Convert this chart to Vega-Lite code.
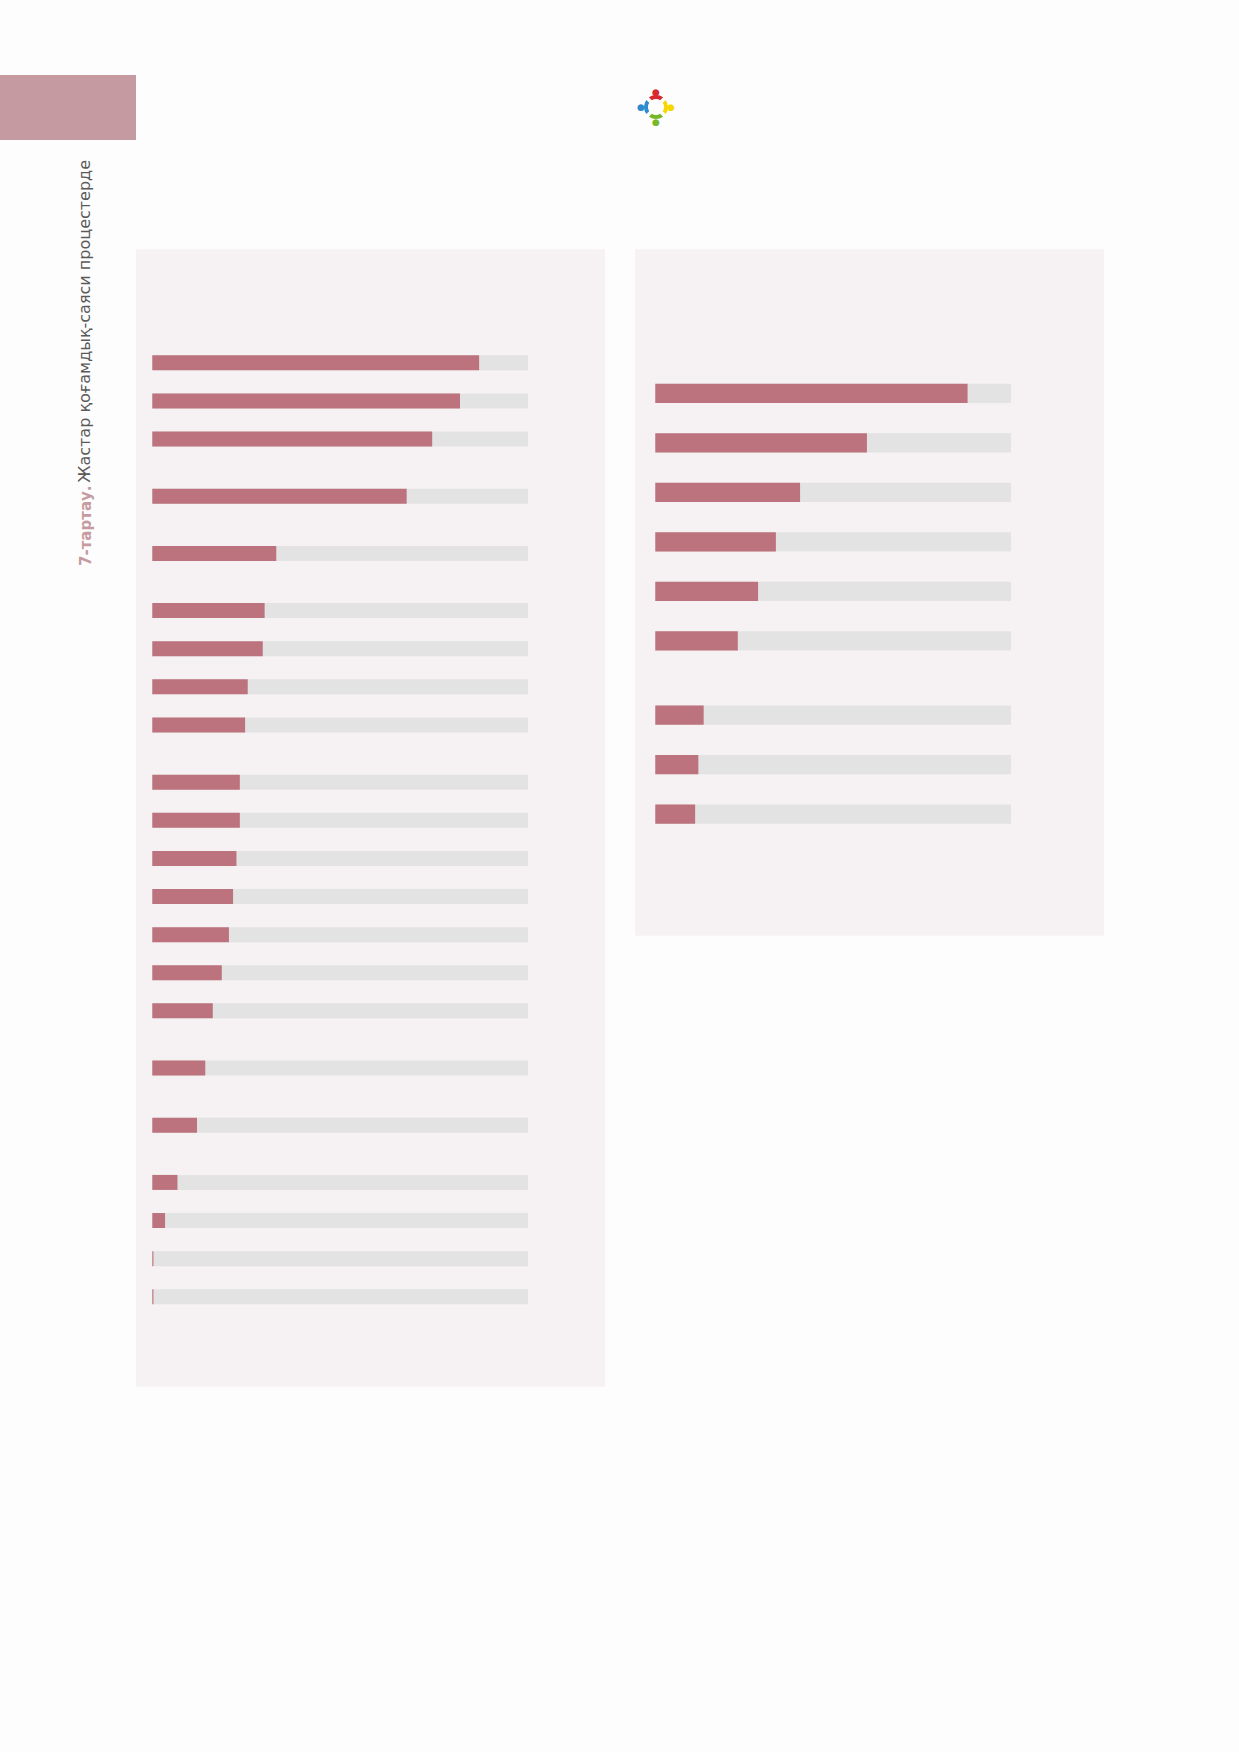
{
  "$schema": "https://vega.github.io/schema/vega-lite/v6.json",
  "background": "#fefdfd",
  "padding": {"top": 75, "left": 0, "right": 135, "bottom": 365},
  "bounds": "flush",
  "spacing": 0,
  "config": {
    "view": {"stroke": null},
    "font": "DejaVu Sans"
  },
  "datasets": {
    "left": [
      {"item": "L01", "value": 87.0},
      {"item": "L02", "value": 81.9},
      {"item": "L03", "value": 74.5},
      {"item": "L04", "value": 67.7},
      {"item": "L05", "value": 33.0},
      {"item": "L06", "value": 29.9},
      {"item": "L07", "value": 29.4},
      {"item": "L08", "value": 25.4},
      {"item": "L09", "value": 24.7},
      {"item": "L10", "value": 23.3},
      {"item": "L11", "value": 23.3},
      {"item": "L12", "value": 22.4},
      {"item": "L13", "value": 21.5},
      {"item": "L14", "value": 20.4},
      {"item": "L15", "value": 18.5},
      {"item": "L16", "value": 16.1},
      {"item": "L17", "value": 14.1},
      {"item": "L18", "value": 11.9},
      {"item": "L19", "value": 6.7},
      {"item": "L20", "value": 3.4},
      {"item": "L21", "value": 0.3},
      {"item": "L22", "value": 0.3}
    ],
    "right": [
      {"item": "R01", "value": 87.8},
      {"item": "R02", "value": 59.5},
      {"item": "R03", "value": 40.7},
      {"item": "R04", "value": 33.9},
      {"item": "R05", "value": 28.9},
      {"item": "R06", "value": 23.2},
      {"item": "R07", "value": 13.6},
      {"item": "R08", "value": 12.1},
      {"item": "R09", "value": 11.2}
    ],
    "logo": [
      {"n": 1, "part": "top", "share": 1},
      {"n": 2, "part": "right", "share": 1},
      {"n": 3, "part": "bottom", "share": 1},
      {"n": 4, "part": "left", "share": 1}
    ]
  },
  "hconcat": [
    {
      "width": 136,
      "height": 65,
      "view": {"fill": "#c59ba1", "stroke": null},
      "title": {
        "text": "Жастар қоғамдық-саяси процестерде",
        "orient": "bottom",
        "anchor": "middle",
        "frame": "group",
        "angle": -90,
        "align": "right",
        "baseline": "middle",
        "offset": 20,
        "dy": 17,
        "fontSize": 16,
        "fontWeight": "normal",
        "color": "#5a5a5a"
      },
      "data": {"values": [{}]},
      "mark": {"type": "text", "text": ""}
    },
    {
      "bounds": "flush",
      "spacing": 110.3,
      "vconcat": [
        {
          "width": 1040,
          "height": 64,
          "data": {"name": "logo"},
          "encoding": {
            "theta": {"field": "share", "type": "quantitative", "stack": true, "scale": {"range": [-0.785, 5.498]}},
            "color": {
              "field": "part",
              "type": "nominal",
              "legend": null,
              "scale": {"domain": ["top", "right", "bottom", "left"], "range": ["#d62a2f", "#f6d800", "#76b82a", "#2e8bcc"]}
            },
            "order": {"field": "n"}
          },
          "layer": [
            {"mark": {"type": "arc", "innerRadius": 8, "outerRadius": 12, "padAngle": 0.25}},
            {"mark": {"type": "text", "text": "●", "radius": 15, "fontSize": 9}}
          ]
        },
        {
          "bounds": "flush",
          "spacing": 30,
          "hconcat": [
            {
              "width": 469,
              "height": 1137.4,
              "view": {"fill": "#f6f2f3", "stroke": null},
              "title": {
                "text": "7-тартау.",
                "orient": "left",
                "anchor": "middle",
                "frame": "group",
                "angle": -90,
                "align": "left",
                "baseline": "middle",
                "offset": 35.5,
                "dx": 252,
                "fontSize": 15,
                "fontWeight": "bold",
                "color": "#c59ba1"
              },
              "data": {"name": "left"},
              "encoding": {
                "y": {
                  "field": "item",
                  "type": "nominal",
                  "axis": null,
                  "scale": {
                    "domain": ["L01","g01","L02","g02","L03","g03","g04","L04","g05","g06","L05","g07","g08","L06","g09","L07","g10","L08","g11","L09","g12","g13","L10","g14","L11","g15","L12","g16","L13","g17","L14","g18","L15","g19","L16","g20","g21","L17","g22","g23","L18","g24","g25","L19","g26","L20","g27","L21","g28","L22"],
                    "range": [104, 1057],
                    "paddingInner": 0,
                    "paddingOuter": 0
                  }
                }
              },
              "layer": [
                {
                  "mark": {"type": "bar", "color": "#e3e3e3", "height": 15},
                  "encoding": {
                    "x": {"datum": 0, "type": "quantitative", "axis": null, "scale": {"domain": [0, 100], "range": [16.3, 392], "nice": false, "zero": false}},
                    "x2": {"datum": 100}
                  }
                },
                {
                  "mark": {"type": "bar", "color": "#bd737e", "height": 15},
                  "encoding": {
                    "x": {"field": "value", "type": "quantitative"}
                  }
                }
              ]
            },
            {
              "width": 469,
              "height": 686.4,
              "view": {"fill": "#f6f2f3", "stroke": null},
              "data": {"name": "right"},
              "encoding": {
                "y": {
                  "field": "item",
                  "type": "nominal",
                  "axis": null,
                  "scale": {
                    "domain": ["R01","h01","R02","h02","R03","h03","R04","h04","R05","h05","R06","h06","h07","R07","h08","R08","h09","R09"],
                    "range": [131.6, 577.3],
                    "paddingInner": 0,
                    "paddingOuter": 0
                  }
                }
              },
              "layer": [
                {
                  "mark": {"type": "bar", "color": "#e3e3e3", "height": 19.3},
                  "encoding": {
                    "x": {"datum": 0, "type": "quantitative", "axis": null, "scale": {"domain": [0, 100], "range": [20.3, 376], "nice": false, "zero": false}},
                    "x2": {"datum": 100}
                  }
                },
                {
                  "mark": {"type": "bar", "color": "#bd737e", "height": 19.3},
                  "encoding": {
                    "x": {"field": "value", "type": "quantitative"}
                  }
                }
              ]
            }
          ]
        }
      ]
    }
  ]
}
